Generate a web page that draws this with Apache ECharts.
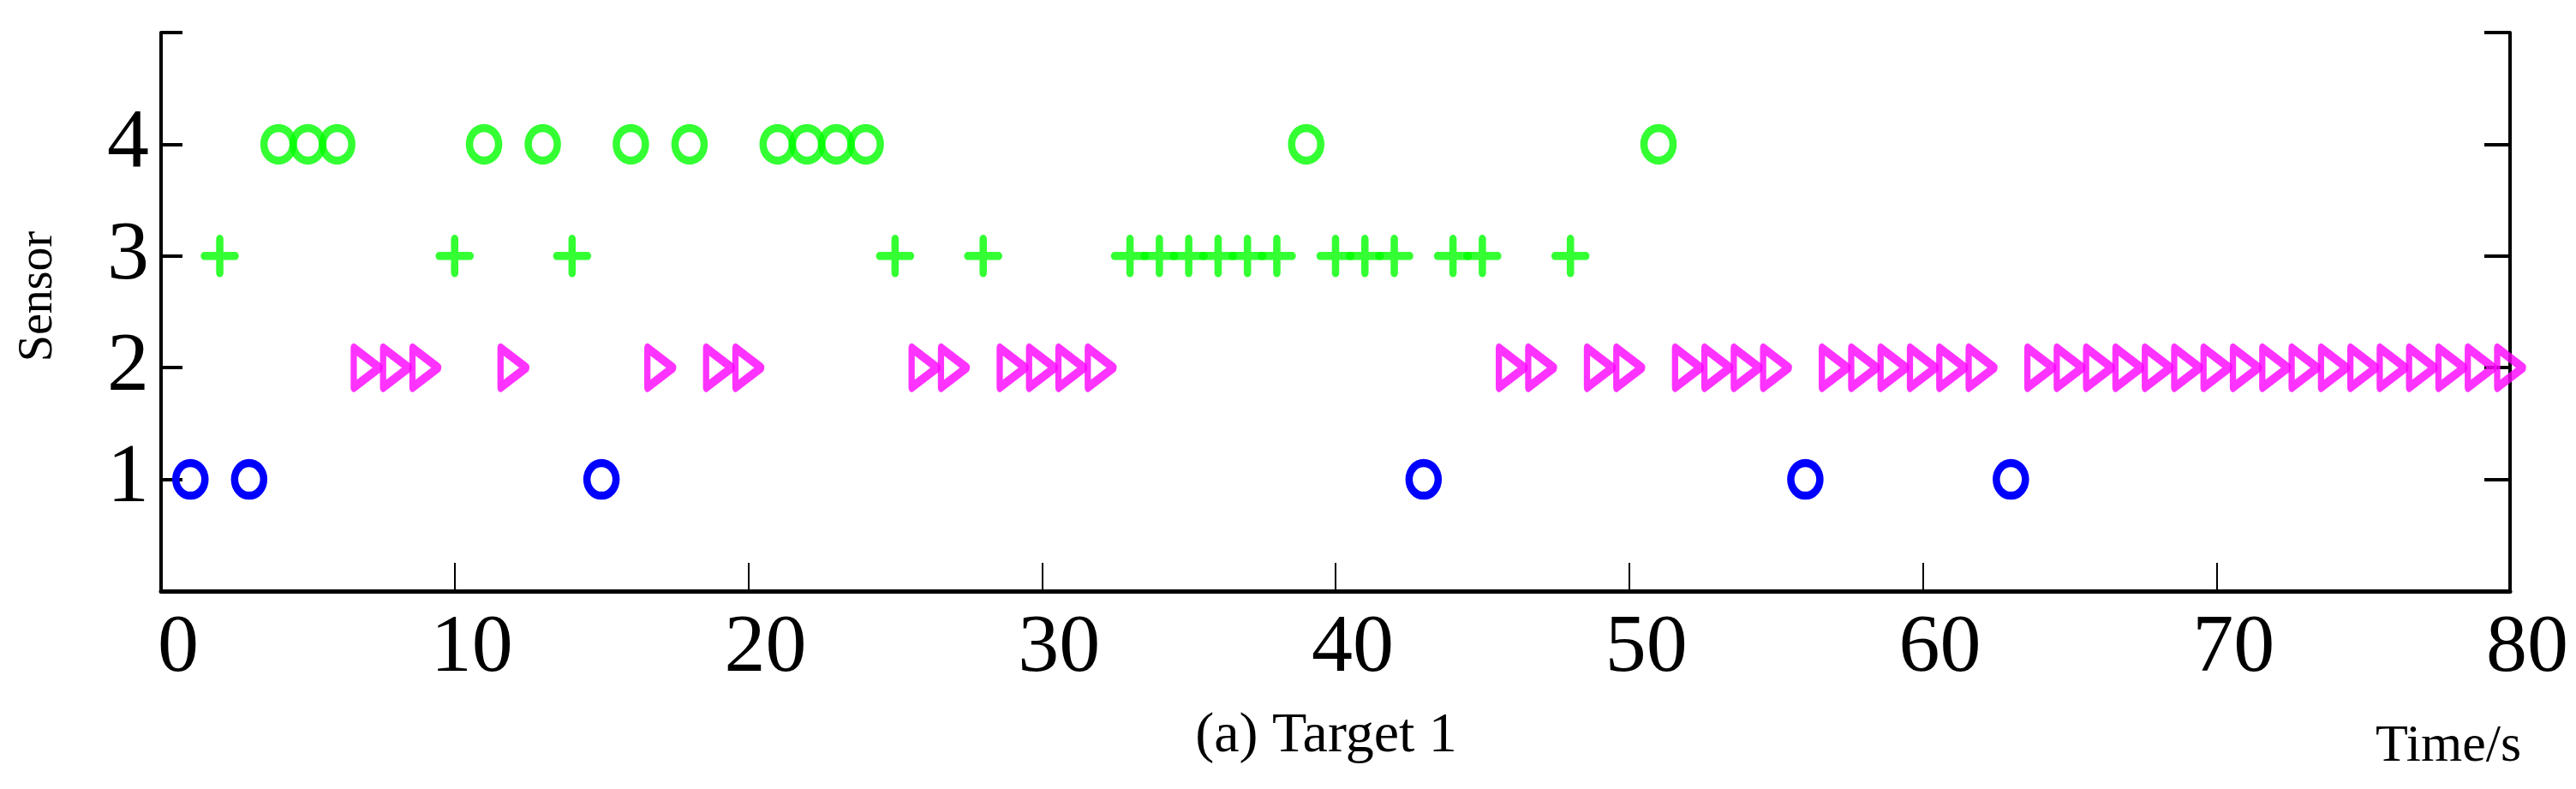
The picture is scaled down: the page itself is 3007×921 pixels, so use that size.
<!DOCTYPE html>
<html><head><meta charset="utf-8">
<script src="https://cdn.jsdelivr.net/npm/echarts@6/dist/echarts.min.js"></script>
<style>html,body{margin:0;padding:0;background:#fff}#c{width:3007px;height:921px}</style>
</head><body><div id="c"></div>
<script>
const sensor1Times = [1, 3, 15, 43, 56, 63];
const sensor2Times = [7, 8, 9, 12, 17, 19, 20, 26, 27, 29, 30, 31, 32, 46, 47, 49, 50, 52, 53, 54, 55, 57, 58, 59, 60, 61, 62, 64, 65, 66, 67, 68, 69, 70, 71, 72, 73, 74, 75, 76, 77, 78, 79, 80];
const sensor3Times = [2, 10, 14, 25, 28, 33, 34, 35, 36, 37, 38, 40, 41, 42, 44, 45, 48];
const sensor4Times = [4, 5, 6, 11, 13, 16, 18, 21, 22, 23, 24, 39, 51];
const xTicks = [0, 10, 20, 30, 40, 50, 60, 70, 80];
const yTicks = [1, 2, 3, 4];

const font = '"Liberation Serif", "DejaVu Serif", serif';
const pts = (arr, s) => arr.map(t => [t, s]);
const chart = echarts.init(document.getElementById('c'), null, {renderer: 'canvas'});
chart.setOption({
  animation: false,
  backgroundColor: '#fff',
  grid: {left: 188, right: 77, top: 38, bottom: 231},
  xAxis: [{
    type: 'value', min: 0, max: 80, interval: 10,
    axisLine: {show: true, onZero: false, lineStyle: {color: '#000', width: 5}},
    axisTick: {show: true, inside: true, length: 33, lineStyle: {color: '#000', width: 2}},
    splitLine: {show: false},
    axisLabel: {fontFamily: font, fontSize: 96, color: '#000', margin: 20, padding: [0, 0, 0, 40],
      formatter: v => xTicks.includes(v) ? String(v) : ''}
  }, {
    type: 'value', position: 'top', min: 0, max: 80,
    axisLine: {show: true, lineStyle: {color: '#000', width: 3}},
    axisTick: {show: false}, axisLabel: {show: false}, splitLine: {show: false}
  }],
  yAxis: [{
    type: 'value', min: 0, max: 5, interval: 1,
    axisLine: {show: true, onZero: false, lineStyle: {color: '#000', width: 4}},
    axisTick: {show: true, inside: true, length: 25, lineStyle: {color: '#000', width: 4}},
    splitLine: {show: false},
    axisLabel: {fontFamily: font, fontSize: 98, color: '#000', margin: 14,
      formatter: v => yTicks.includes(v) ? String(v) : ''}
  }, {
    type: 'value', position: 'right', min: 0, max: 5, interval: 1,
    axisLine: {show: true, onZero: false, lineStyle: {color: '#000', width: 4}},
    axisTick: {show: true, inside: true, length: 30, lineStyle: {color: '#000', width: 4}},
    axisLabel: {show: false}, splitLine: {show: false}
  }],
  graphic: [
    {type: 'text', x: 45, y: 346, rotation: Math.PI / 2, style: {text: 'Sensor', font: '56px ' + font, fill: '#000', textAlign: 'center', textVerticalAlign: 'middle'}},
    {type: 'text', x: 1548, y: 860, style: {text: '(a) Target 1', font: '66px ' + font, fill: '#000', textAlign: 'center', textVerticalAlign: 'middle'}},
    {type: 'text', x: 2858, y: 872, style: {text: 'Time/s', font: '62px ' + font, fill: '#000', textAlign: 'center', textVerticalAlign: 'middle'}}
  ],
  series: [
    {type: 'scatter', data: pts(sensor1Times, 1), symbol: 'circle', symbolSize: [34, 38],
      itemStyle: {color: 'rgba(0,0,0,0)', borderColor: '#0000ff', borderWidth: 9, opacity: 1}},
    {type: 'scatter', data: pts(sensor2Times, 2), symbol: 'path://M0,0 L10,7 L0,14 Z', symbolSize: [30, 46],
      itemStyle: {color: 'rgba(0,0,0,0)', borderColor: '#ff00ff', borderWidth: 9, borderJoin: 'round'}},
    {type: 'scatter', data: pts(sensor3Times, 3), symbol: 'path://M0,5 L10,5 M5,0 L5,10', symbolSize: [36, 40],
      itemStyle: {color: 'rgba(0,0,0,0)', borderColor: '#00ff00', borderWidth: 9, borderCap: 'round'}},
    {type: 'scatter', data: pts(sensor4Times, 4), symbol: 'circle', symbolSize: [34, 38],
      itemStyle: {color: 'rgba(0,0,0,0)', borderColor: '#00ff00', borderWidth: 9}}
  ]
});
</script></body></html>
